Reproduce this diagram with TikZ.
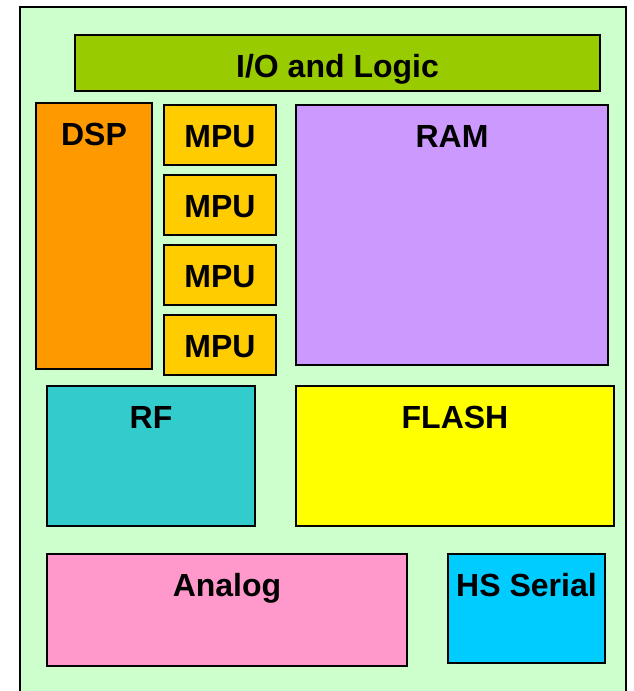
\documentclass[tikz,border=0pt]{standalone}
\usepackage{fontspec}
\setmainfont{Liberation Sans}
\definecolor{chipgreen}{HTML}{CCFFCC}
\definecolor{iogreen}{HTML}{99CC00}
\definecolor{dsporange}{HTML}{FF9900}
\definecolor{mpuyellow}{HTML}{FFCC00}
\definecolor{rampurple}{HTML}{CC99FF}
\definecolor{rfteal}{HTML}{33CCCC}
\definecolor{flashyellow}{HTML}{FFFF00}
\definecolor{analogpink}{HTML}{FF99CC}
\definecolor{serialblue}{HTML}{00CCFF}
\begin{document}
\begin{tikzpicture}
[x=0.5pt,y=-0.5pt,
  blockdecorate/.style={shape=rectangle,draw,line width=0.7pt,inner sep=0pt},%
  labeldecorate/.style={anchor=base,font=\bfseries\fontsize{16}{19}\selectfont}]
\useasboundingbox (0,0) rectangle (633,691);
\clip (0,0) rectangle (633,691);
%% chip outline
\node (chip) at (323,400) [blockdecorate,line width=1pt,fill=chipgreen,
  minimum width=303pt,minimum height=393pt] {};
%% blocks and their names
\foreach \blockname/\xa/\ya/\xb/\yb/\colour/\blocktext in {
  io/75/35/600/91/iogreen/{I/O and Logic},
  dsp/36/103/152/369/dsporange/DSP,
  mpu1/164/105/276/165/mpuyellow/MPU, mpu2/164/175/276/235/mpuyellow/MPU,
  mpu3/164/245/276/305/mpuyellow/MPU, mpu4/164/315/276/375/mpuyellow/MPU,
  ram/296/105/608/365/rampurple/RAM,
  rf/47/386/255/526/rfteal/RF,
  flash/296/386/614/526/flashyellow/FLASH,
  analog/47/554/407/666/analogpink/Analog,
  serial/448/554/605/663/serialblue/HS Serial} {
  \node (\blockname) at ({(\xa+\xb)/2},{(\ya+\yb)/2}) [blockdecorate,fill=\colour,
    minimum width=(\xb-\xa)*0.5pt,minimum height=(\yb-\ya)*0.5pt] {};
  \node [labeldecorate] at ([yshift=-21.75pt]\blockname.north) {\blocktext};
}
\end{tikzpicture}
\end{document}
